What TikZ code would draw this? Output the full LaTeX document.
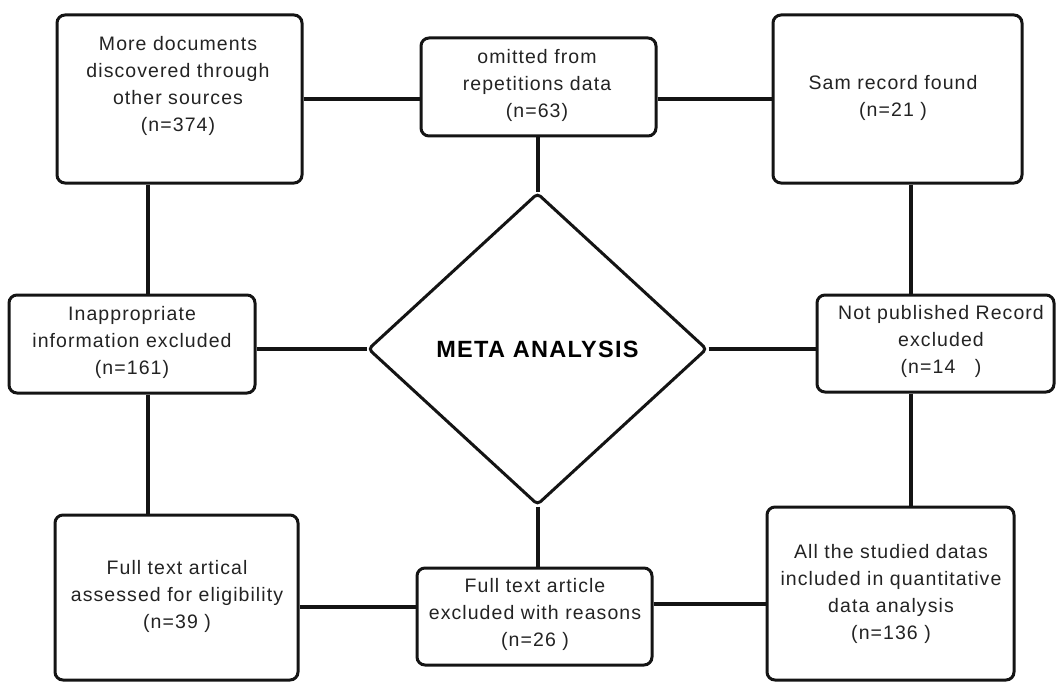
\documentclass[tikz,border=0pt]{standalone}
\usepackage{fontspec}
\setmainfont{Liberation Sans}
\newfontfamily\boxfont{Liberation Sans}[LetterSpace=5.5]
\usetikzlibrary{shapes.geometric}
\definecolor{ink}{RGB}{20,20,20}
\definecolor{txt}{RGB}{35,35,35}
\tikzset{
  box/.style={draw=ink, line width=3pt, rounded corners=8pt, inner sep=0pt},
  lbl/.style={align=center, text=txt, inner sep=0pt,
    font=\boxfont\fontsize{19.5}{27}\selectfont},
  link/.style={draw=ink, line width=4pt},
  meta/.style={draw=ink, line width=3pt, shape=diamond, rounded corners=4pt,
    inner sep=0pt, minimum width=339pt, minimum height=312pt,
    font=\boxfont\bfseries\fontsize{23.5}{27}\selectfont, text=black}
}
\begin{document}
\begin{tikzpicture}[x=1pt,y=-1pt]
\useasboundingbox (0,0) rectangle (1057,682);
\fill[white] (0,0) rectangle (1057,682);

% boxes
\node[box, minimum width=245pt, minimum height=168pt] (A) at (179.5,99) {};
\node[box, minimum width=235pt, minimum height=98pt]  (B) at (538.5,87) {};
\node[box, minimum width=249pt, minimum height=168pt] (C) at (897.5,99) {};
\node[box, minimum width=246pt, minimum height=98pt]  (D) at (132,344) {};
\node[box, minimum width=237pt, minimum height=97pt]  (E) at (935.5,343.5) {};
\node[box, minimum width=243pt, minimum height=165pt] (F) at (176.5,597.5) {};
\node[box, minimum width=235pt, minimum height=97pt]  (G) at (534.5,616.5) {};
\node[box, minimum width=247pt, minimum height=173pt] (H) at (890.5,593.5) {};
\node[meta] (M) at (537.5,349) {META ANALYSIS};

% texts
\node[lbl] (At) at (178,85.5) {More documents\\discovered through\\other sources\\(n=374)};
\node[lbl] (Bt) at (537,85) {omitted from\\repetitions data\\(n=63)};
\node[lbl] (Ct) at (893,97.5) {Sam record found\\(n=21 )};
\node[lbl] (Dt) at (132,342.5) {Inappropriate\\information excluded\\(n=161)};
\node[lbl] (Et) at (941,341.5) {Not published Record\\excluded\\(n=14\ \ \ )};
\node[lbl] (Ft) at (177,596) {Full text artical\\assessed for eligibility\\(n=39 )};
\node[lbl] (Gt) at (535,614.5) {Full text article\\excluded with reasons\\(n=26 )};
\node[lbl] (Ht) at (891,593.5) {All the studied datas\\included in quantitative\\data analysis\\(n=136 )};

% connector guides
\coordinate (xL) at (148,0);
\coordinate (xR) at (911,0);
\coordinate (yFG) at (0,607);
\coordinate (yGH) at (0,604);

% connectors
\draw[link] (A.east) -- (A.east -| B.west);
\draw[link] (C.west -| B.east) -- (C.west);
\draw[link] (B.south -| M.north) -- (M.north);
\draw[link] (A.south -| xL) -- (D.north -| xL);
\draw[link] (D.south -| xL) -- (F.north -| xL);
\draw[link] (C.south -| xR) -- (E.north -| xR);
\draw[link] (E.south -| xR) -- (H.north -| xR);
\draw[link] (M.west -| D.east) -- (M.west);
\draw[link] (M.east) -- (M.east -| E.west);
\draw[link] (M.south) -- (M.south |- G.north);
\draw[link] (F.east |- yFG) -- (G.west |- yFG);
\draw[link] (G.east |- yGH) -- (H.west |- yGH);
\end{tikzpicture}
\end{document}
